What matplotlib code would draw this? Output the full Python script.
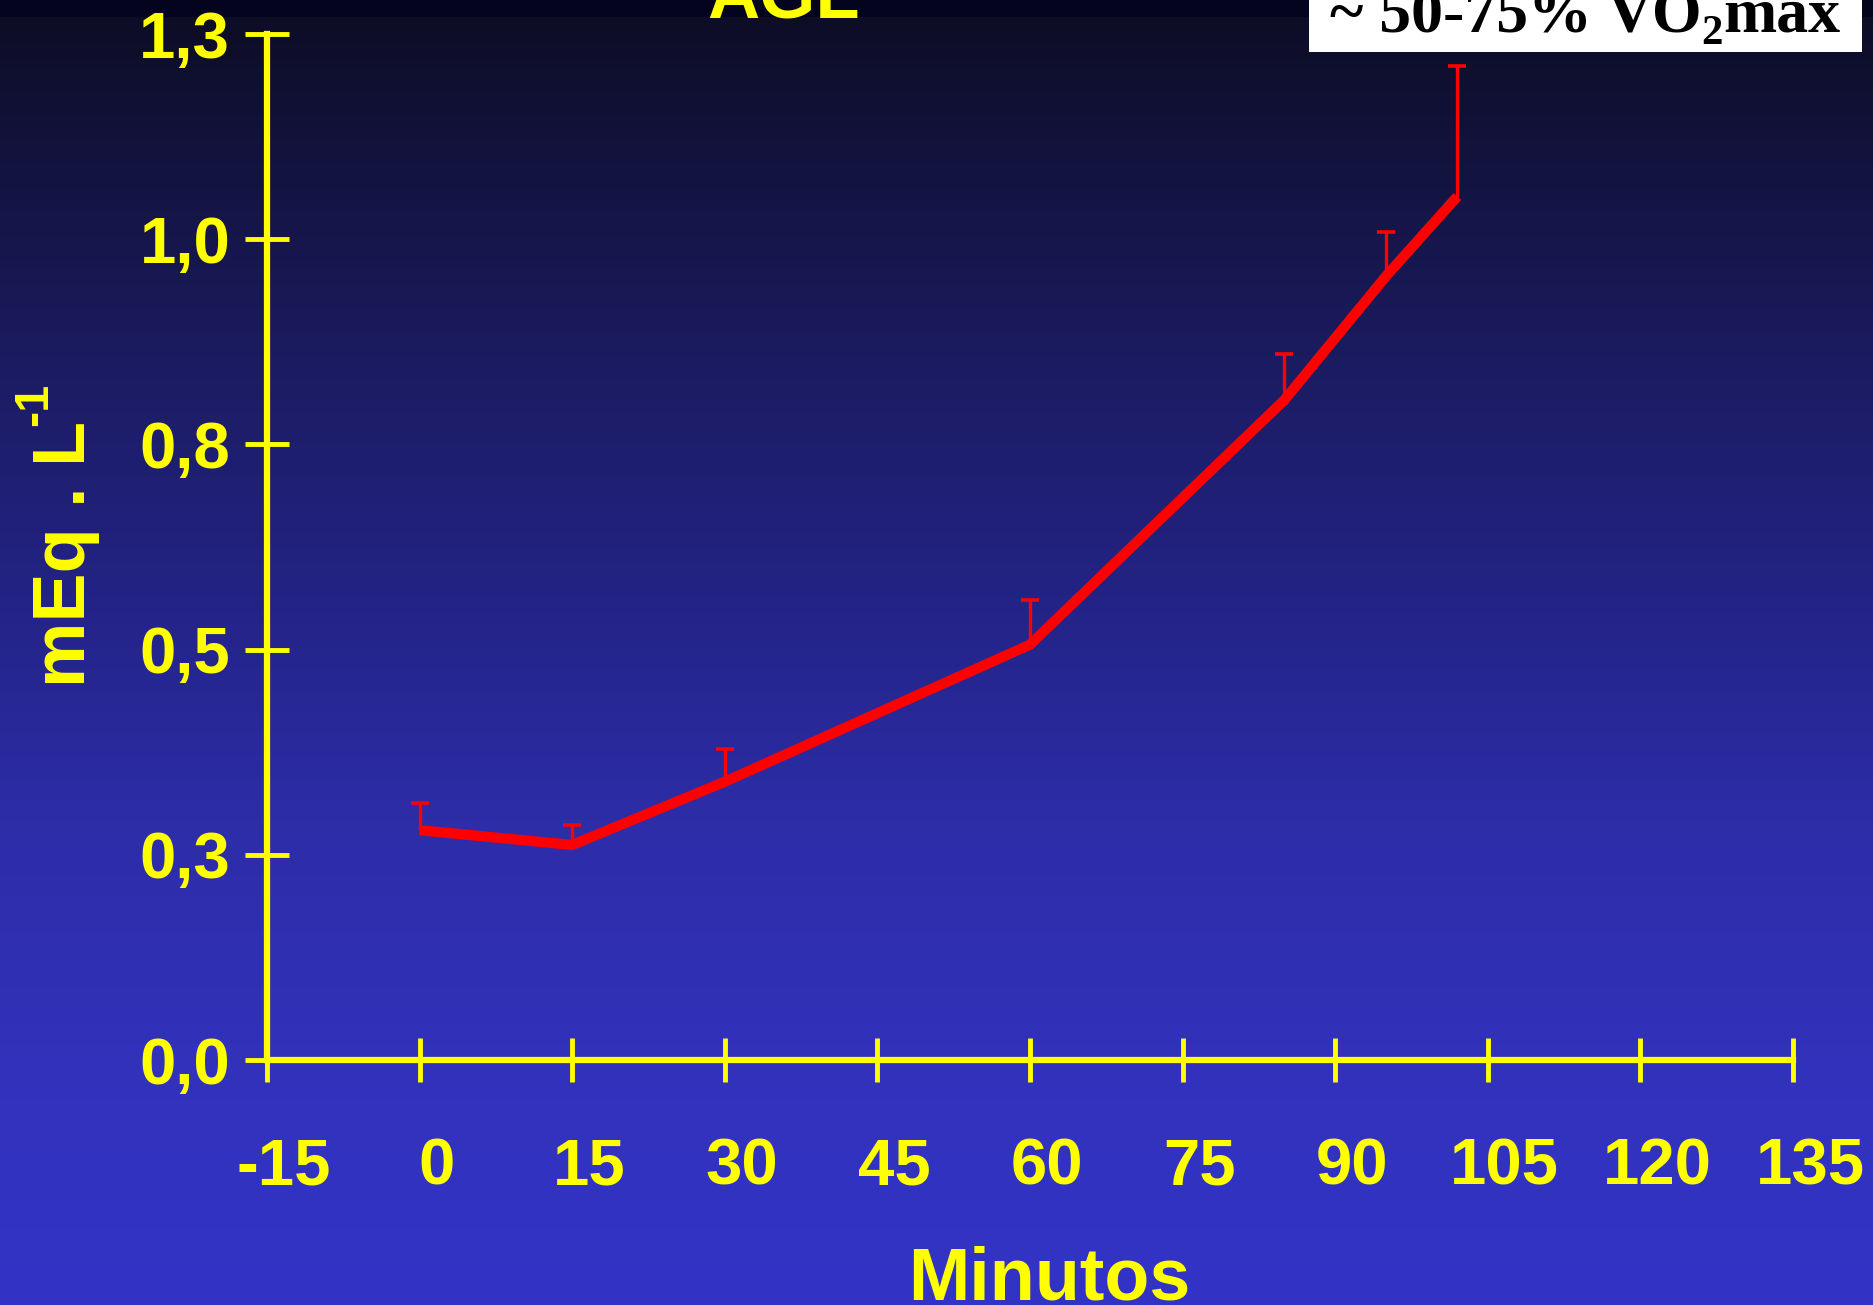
import numpy as np
import matplotlib
matplotlib.use("Agg")
import matplotlib.pyplot as plt
from matplotlib.patches import Rectangle
from matplotlib.transforms import ScaledTranslation

# Free fatty acid (AGL) concentration during prolonged exercise
minutes = [0, 15, 30, 60, 85, 95, 102]
agl_mean = [0.280, 0.262, 0.339, 0.506, 0.804, 0.955, 1.052]
agl_sd = [0.033, 0.024, 0.040, 0.054, 0.056, 0.054, 0.159]

x_ticks = [-15, 0, 15, 30, 45, 60, 75, 90, 105, 120, 135]
x_ticklabels = ["-15", "0", "15", "30", "45", "60", "75", "90", "105", "120", "135"]
y_ticks = [0.0, 0.25, 0.5, 0.75, 1.0, 1.25]
y_ticklabels = ["0,0", "0,3", "0,5", "0,8", "1,0", "1,3"]

W, H, DPI = 1874, 1305, 100
YELLOW = "#FFFF00"
SANS = "Liberation Sans"
SERIF = "Liberation Serif"

fig = plt.figure(figsize=(W / DPI, H / DPI), dpi=DPI)

# Slide background: dark navy at top fading to royal blue at the bottom
bg = fig.add_axes([0, 0, 1, 1], zorder=-10)
rows = np.arange(H)
stop_rows = [0, 16, 17, 380, 625, 820, 1100, 1305]
stop_r = [4, 4, 13, 28, 36, 45, 50, 51]
stop_b = [30, 30, 38, 100, 138, 168, 190, 198]
r = np.interp(rows, stop_rows, stop_r)
b = np.interp(rows, stop_rows, stop_b)
grad = np.stack([r, r, b], axis=1)[:, None, :] / 255.0
bg.imshow(grad, aspect="auto", extent=[0, 1, 0, 1], origin="upper")
bg.set_axis_off()

# Plot area
x0, x1 = 267, 1793
y_top, y_bot = 34, 1060
ax = fig.add_axes([x0 / W, (H - y_bot) / H, (x1 - x0) / W, (y_bot - y_top) / H])
ax.patch.set_alpha(0)
ax.set_xlim(-15, 135)
ax.set_ylim(0, 1.25)
for side in ("top", "right"):
    ax.spines[side].set_visible(False)
for side in ("left", "bottom"):
    ax.spines[side].set_color(YELLOW)
    ax.spines[side].set_linewidth(4.5)

ax.set_xticks(x_ticks)
ax.set_xticklabels(x_ticklabels, fontfamily=SANS, fontweight="bold")
ax.set_yticks(y_ticks)
ax.set_yticklabels(y_ticklabels, fontfamily=SANS, fontweight="bold")
ax.tick_params(axis="both", direction="inout", length=31, width=3.5,
               color=YELLOW, labelcolor=YELLOW, labelsize=47)
ax.tick_params(axis="x", pad=40)
ax.tick_params(axis="y", pad=11)
shift = ScaledTranslation(17 / DPI, 0, fig.dpi_scale_trans)
for lbl in ax.get_xticklabels():
    lbl.set_transform(lbl.get_transform() + shift)

# Upper error bars (stem + cap) and mean line
ax.vlines(minutes, agl_mean, np.add(agl_mean, agl_sd), color="red",
          linewidth=2.4, zorder=3, clip_on=False)
ax.plot(minutes, np.add(agl_mean, agl_sd), linestyle="none", marker="_",
        markersize=13, markeredgewidth=2.6, color="red", zorder=3, clip_on=False)
ax.plot(minutes, agl_mean, color="red", linewidth=7.4,
        solid_capstyle="butt", solid_joinstyle="miter", zorder=4, clip_on=False)

# Axis titles
fig.text(1049 / W, 6 / H, "Minutos", ha="center", va="baseline",
         fontsize=53, fontweight="bold", family=SANS, color=YELLOW)
fig.text(85 / W, (H - 687) / H, "mEq . L", rotation=90, rotation_mode="anchor",
         ha="left", va="baseline", fontsize=53, fontweight="bold",
         family=SANS, color=YELLOW)
fig.text(47 / W, (H - 426) / H, "-1", rotation=90, rotation_mode="anchor",
         ha="left", va="baseline", fontsize=35, fontweight="bold",
         family=SANS, color=YELLOW)

# Title
fig.text(707 / W, (H - 17) / H, "AGL", ha="left", va="baseline",
         fontsize=52, fontweight="bold", family=SANS, color=YELLOW)

# Exercise intensity box
fig.add_artist(Rectangle((1309 / W, (H - 52) / H), 553 / W, 60 / H,
                         transform=fig.transFigure, facecolor="white",
                         edgecolor="none", zorder=5))
renderer = fig.canvas.get_renderer()
box_style = dict(fontweight="bold", family=SERIF, color="black", zorder=6,
                 ha="left", va="baseline")
t_main = fig.text(1330 / W, (H - 31) / H, "~ 50-75% VO", fontsize=46, **box_style)
x_sub = t_main.get_window_extent(renderer).x1
t_sub = fig.text(x_sub / W, (H - 44) / H, "2", fontsize=31, **box_style)
x_end = t_sub.get_window_extent(renderer).x1
fig.text(x_end / W, (H - 31) / H, "max", fontsize=46, **box_style)

fig.savefig("out.png", dpi=DPI)
